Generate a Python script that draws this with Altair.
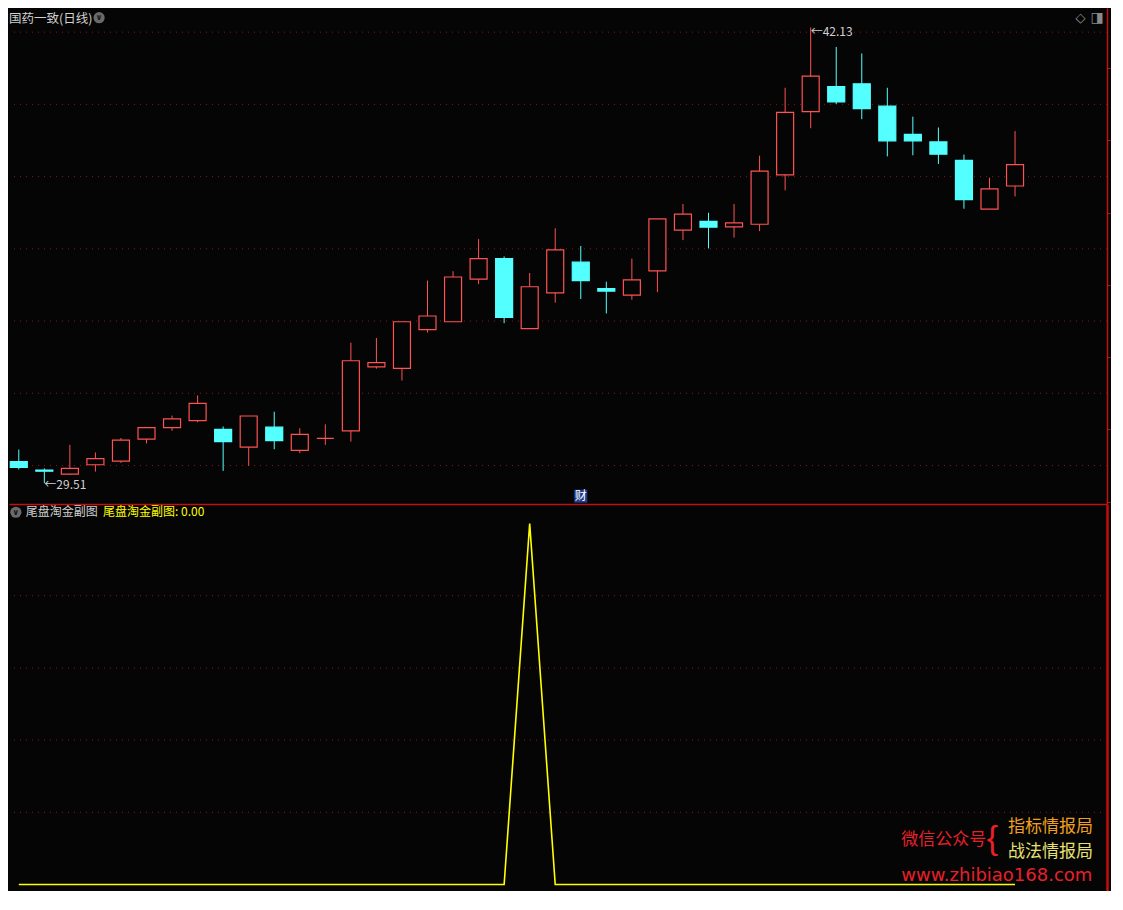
import altair as alt
import pandas as pd

# ---------------- data ----------------
idx = list(range(40))
opens = [30.11, 29.87, 29.76, 30.02, 30.12, 30.73, 31.05, 31.24, 31.00, 30.51,
         31.06, 30.42, 30.75, 30.96, 32.73, 32.69, 33.76, 33.98, 35.16, 35.73,
         33.79, 34.78, 35.63, 34.90, 34.72, 35.39, 36.52, 36.76, 36.61, 36.68,
         38.05, 39.80, 40.49, 40.57, 39.95, 39.17, 38.96, 38.45, 37.10, 37.74]
closes = [29.95, 29.84, 29.92, 30.19, 30.70, 31.05, 31.29, 31.72, 30.66, 31.37,
          30.69, 30.86, 30.75, 32.90, 32.85, 33.98, 34.14, 35.22, 35.73, 34.10,
          34.95, 35.97, 35.12, 34.83, 35.14, 36.83, 36.96, 36.60, 36.72, 38.15,
          39.78, 40.78, 40.07, 39.88, 38.99, 38.99, 38.62, 37.36, 37.66, 38.33]
highs = [30.44, 29.92, 30.57, 30.36, 30.76, 31.06, 31.38, 31.94, 31.08, 31.37,
         31.49, 31.03, 31.14, 33.40, 33.53, 33.98, 35.12, 35.38, 36.27, 35.79,
         35.33, 36.57, 36.08, 35.09, 35.73, 36.83, 37.24, 37.00, 37.24, 38.58,
         40.46, 42.13, 41.59, 41.41, 40.46, 39.66, 39.36, 38.61, 37.97, 39.26]
lows = [29.89, 29.51, 29.74, 29.83, 30.07, 30.61, 30.96, 31.20, 29.85, 29.99,
        30.45, 30.34, 30.57, 30.66, 32.68, 32.35, 33.68, 33.98, 35.02, 33.94,
        33.79, 34.51, 34.61, 34.21, 34.59, 34.80, 36.24, 36.01, 36.31, 36.49,
        37.62, 39.34, 40.01, 39.59, 38.56, 38.59, 38.35, 37.11, 37.10, 37.45]
indicator = [0, 0, 0, 0, 0, 0, 0, 0, 0, 0,
             0, 0, 0, 0, 0, 0, 0, 0, 0, 0,
             1, 0, 0, 0, 0, 0, 0, 0, 0, 0,
             0, 0, 0, 0, 0, 0, 0, 0, 0, 0]
price_grid = [30, 32, 34, 36, 38, 40, 42]
price_ticks = [29, 30, 31, 32, 33, 34, 35, 36, 37, 38, 39, 40, 41, 42]
ind_grid = [0.2, 0.4, 0.6, 0.8]
min_label = {"i": 1, "p": 29.51, "t": "←29.51"}
max_label = {"i": 31, "p": 42.13, "t": "←42.13"}
cai_marker = {"i": 22, "p": 29.15, "t": "财"}
main_title = "国药一致(日线)"
sub_name = "尾盘淘金副图"
sub_value = "尾盘淘金副图: 0.00"
wm_left = "微信公众号"
wm_top = "指标情报局"
wm_bottom = "战法情报局"
wm_url = "www.zhibiao168.com"

# ---------------- layout ----------------
SX = 1098 / 1121
SY = 0.971
W = 1098
H_TOP = 496
H_BOT = 387
FONT = "Noto Sans CJK SC"
UP = "#ff5252"
DOWN = "#54ffff"
GRID = "#8e1616"
BG = "#050505"

df = pd.DataFrame({"i": idx, "open": opens, "close": closes, "high": highs, "low": lows})
df_ind = pd.DataFrame({"i": idx, "v": indicator})

xscale = alt.Scale(domain=[-0.383, 42.60], nice=False, zero=False, padding=0)
yscale = alt.Scale(domain=[28.933, 42.669], nice=False, zero=False, padding=0)
iscale = alt.Scale(domain=[-0.018, 1.054], nice=False, zero=False, padding=0)

up_cond = alt.datum.close >= alt.datum.open

base = alt.Chart(df)

grid_top = alt.Chart(pd.DataFrame({"g": price_grid})).mark_rule(
    color=GRID, strokeDash=[1, 5], strokeWidth=1
).encode(
    y=alt.Y("g:Q", scale=yscale,
            axis=alt.Axis(orient="right", labels=False, title=None, grid=False,
                          values=price_ticks, tickSize=3, tickColor="#c01010",
                          domainColor="#c01010", domainWidth=1.5))
)

wick = base.mark_rule(strokeWidth=1).encode(
    x=alt.X("i:Q", scale=xscale,
            axis=alt.Axis(orient="bottom", labels=False, ticks=False, grid=False,
                          title=None, domainColor="#c01010", domainWidth=1.5)),
    y=alt.Y("low:Q", scale=yscale),
    y2="high:Q",
    color=alt.condition(up_cond, alt.value(UP), alt.value(DOWN)),
)

body = base.mark_bar(size=17, strokeWidth=1.2).encode(
    x=alt.X("i:Q", scale=xscale),
    y=alt.Y("open:Q", scale=yscale),
    y2="close:Q",
    fill=alt.condition(up_cond, alt.value(BG), alt.value(DOWN)),
    stroke=alt.condition(up_cond, alt.value(UP), alt.value(DOWN)),
)

min_txt = alt.Chart(pd.DataFrame([min_label])).mark_text(
    align="left", baseline="middle", dx=0, dy=2, fontSize=12, font=FONT, color="#d0d0d0"
).encode(x=alt.X("i:Q", scale=xscale), y=alt.Y("p:Q", scale=yscale), text="t:N")

max_txt = alt.Chart(pd.DataFrame([max_label])).mark_text(
    align="left", baseline="middle", dx=0, dy=5, fontSize=12, font=FONT, color="#d0d0d0"
).encode(x=alt.X("i:Q", scale=xscale), y=alt.Y("p:Q", scale=yscale), text="t:N")

cai_box = alt.Chart(pd.DataFrame([cai_marker])).mark_square(
    size=170, color="#1d3d8c", opacity=1
).encode(x=alt.X("i:Q", scale=xscale), y=alt.Y("p:Q", scale=yscale))
cai_txt = alt.Chart(pd.DataFrame([cai_marker])).mark_text(
    fontSize=12, font=FONT, color="#ffffff", baseline="middle"
).encode(x=alt.X("i:Q", scale=xscale), y=alt.Y("p:Q", scale=yscale), text="t:N")

def label(text, x, y, size=12, color="#d0d0d0", align="left", font=FONT, weight="normal"):
    return alt.Chart(pd.DataFrame({"t": [text]})).mark_text(
        align=align, baseline="middle", fontSize=size, font=font, color=color,
        fontWeight=weight
    ).encode(x=alt.value(x * SX), y=alt.value(y * SY), text="t:N")

def dot(x, y, size, color):
    return alt.Chart(pd.DataFrame({"a": [0]})).mark_circle(
        size=size, color=color, opacity=1
    ).encode(x=alt.value(x * SX), y=alt.value(y * SY))

top = alt.layer(
    grid_top, wick, body, min_txt, max_txt, cai_box, cai_txt,
    label(main_title, 0, 11, size=12.5),
    dot(92, 10, 125, "#6a6a6a"),
    label("∨", 92, 10.5, size=8, color="#151515", align="center", font="DejaVu Sans", weight="bold"),
    label("◇", 1094, 10, size=13, color="#9a9a9a", align="center", font="DejaVu Sans"),
    label("◨", 1111, 10, size=14, color="#8a8a8a", align="center", font="DejaVu Sans"),
).properties(width=W, height=H_TOP)

grid_bot = alt.Chart(pd.DataFrame({"g": ind_grid})).mark_rule(
    color=GRID, strokeDash=[1, 5], strokeWidth=1
).encode(
    y=alt.Y("g:Q", scale=iscale,
            axis=alt.Axis(orient="right", labels=False, title=None, grid=False,
                          ticks=False, domainColor="#c80a0a", domainWidth=2.5))
)

ind_line = alt.Chart(df_ind).mark_line(color="#ffff00", strokeWidth=1.6).encode(
    x=alt.X("i:Q", scale=xscale, axis=None),
    y=alt.Y("v:Q", scale=iscale),
)

bottom = alt.layer(
    grid_bot, ind_line,
    dot(7, 8.5, 125, "#6a6a6a"),
    label("∨", 7, 9, size=8, color="#151515", align="center", font="DejaVu Sans", weight="bold"),
    label(sub_name, 17, 8.5),
    label(sub_value, 96, 8.5, color="#ffff00"),
    label(wm_left, 911, 346, size=17, color="#e8202a"),
    label("{", 1004, 345, size=34, color="#e8202a", align="center", font="Liberation Sans"),
    label(wm_top, 1020, 333, size=17, color="#f0a020"),
    label(wm_bottom, 1020, 358, size=17, color="#e8e070"),
    label(wm_url, 911, 383, size=18, color="#e8202a", font="DejaVu Sans"),
).properties(width=W, height=H_BOT)

chart = alt.vconcat(top, bottom, spacing=0).properties(
    padding=0, background=BG
).configure_view(stroke="transparent", strokeWidth=0)

chart.save("out.html", embed_options={"renderer": "svg", "actions": False})
